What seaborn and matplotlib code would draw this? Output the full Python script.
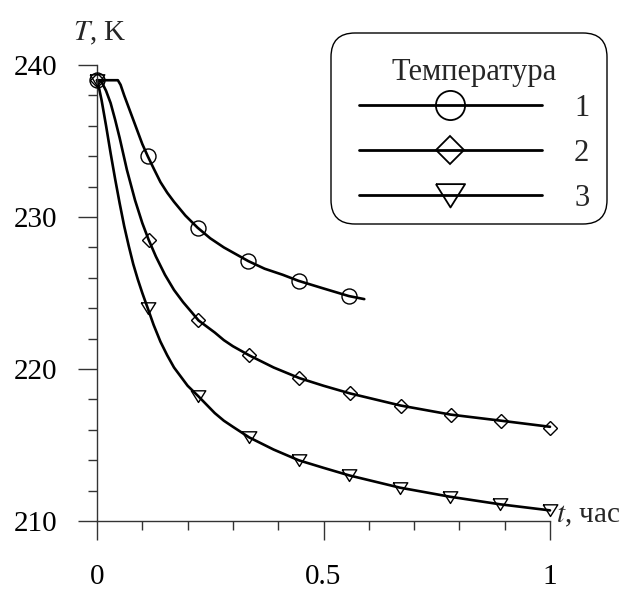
import matplotlib
matplotlib.use("Agg")
import matplotlib.pyplot as plt
import seaborn as sns
import pandas as pd
from matplotlib.lines import Line2D
from matplotlib.patches import FancyBboxPatch
from matplotlib.ticker import FixedLocator, MultipleLocator, FuncFormatter

# ---------------- data ----------------
series_labels = ["1", "2", "3"]
legend_title = "Температура"
x_label = "$t$, час"
y_label = "$T$, K"

# smooth curves
line1_t = [0, 0.046, 0.052, 0.06, 0.07, 0.08, 0.09, 0.10, 0.112, 0.125, 0.14, 0.155,
           0.17, 0.195, 0.222, 0.25, 0.28, 0.31, 0.334, 0.37, 0.41, 0.445, 0.5, 0.556, 0.59]
line1_T = [239.0, 239.0, 238.7, 238.0, 237.2, 236.4, 235.6, 234.8, 234.0, 233.2, 232.3, 231.6,
           231.0, 230.1, 229.3, 228.6, 228.0, 227.5, 227.1, 226.6, 226.2, 225.8, 225.3, 224.8, 224.6]

line2_t = [0, 0.01, 0.02, 0.03, 0.04, 0.05, 0.066, 0.084, 0.10, 0.114, 0.13, 0.15, 0.17, 0.19,
           0.21, 0.224, 0.26, 0.28, 0.30, 0.336, 0.39, 0.447, 0.50, 0.558, 0.67, 0.781, 0.892, 1.0]
line2_T = [239.0, 238.9, 238.3, 237.5, 236.4, 235.2, 233.1, 231.1, 229.6, 228.5, 227.4, 226.2, 225.2, 224.4,
           223.7, 223.2, 222.4, 221.9, 221.5, 220.9, 220.1, 219.4, 218.9, 218.4, 217.6, 217.0, 216.6, 216.2]

line3_t = [0, 0.005, 0.01, 0.02, 0.03, 0.04, 0.05, 0.06, 0.07, 0.08, 0.09, 0.10, 0.112, 0.125,
           0.14, 0.155, 0.17, 0.185, 0.20, 0.224, 0.26, 0.28, 0.30, 0.336, 0.39, 0.445, 0.50,
           0.557, 0.668, 0.779, 0.89, 1.0]
line3_T = [239.0, 238.4, 237.7, 236.0, 234.2, 232.5, 230.9, 229.4, 228.1, 226.9, 225.9, 225.0, 224.0, 222.9,
           221.8, 220.9, 220.1, 219.5, 218.9, 218.2, 217.1, 216.6, 216.2, 215.5, 214.7, 214.0, 213.5,
           213.0, 212.2, 211.6, 211.1, 210.7]

# marker points
mark1_t = [0, 0.112, 0.222, 0.334, 0.445, 0.556]
mark1_T = [239.0, 234.0, 229.3, 227.1, 225.8, 224.8]
mark2_t = [0, 0.114, 0.224, 0.336, 0.447, 0.558, 0.670, 0.781, 0.892, 1.0]
mark2_T = [239.0, 228.5, 223.2, 220.9, 219.4, 218.4, 217.6, 217.0, 216.6, 216.1]
mark3_t = [0, 0.112, 0.224, 0.336, 0.445, 0.557, 0.668, 0.779, 0.890, 1.0]
mark3_T = [239.0, 224.0, 218.2, 215.5, 214.0, 213.0, 212.2, 211.6, 211.1, 210.7]

x_major = [0, 0.5, 1]
y_major = [210, 220, 230, 240]

# ---------------- style ----------------
sns.set_theme(style="white")
plt.rcParams["font.family"] = ["Liberation Serif", "DejaVu Serif"]
plt.rcParams["mathtext.fontset"] = "stix"

FS = 21
LFS = 22
tri_down = [(-1.0, 0.78), (1.0, 0.78), (0.0, -0.82), (-1.0, 0.78)]
markers = ["o", "D", tri_down]
plot_ms = [10.8, 7.6, 10.5]
leg_ms = [21.0, 13.8, 21.0]

lines = [(line1_t, line1_T), (line2_t, line2_T), (line3_t, line3_T)]
marks = [(mark1_t, mark1_T), (mark2_t, mark2_T), (mark3_t, mark3_T)]

W, H = 6.3, 5.89
fig = plt.figure(figsize=(W, H), dpi=100)
ax = fig.add_axes([0.154, 0.1154, 0.719, 0.7742])

for (lt, lT), (mt, mT), m, ms, lab in zip(lines, marks, markers, plot_ms, series_labels):
    dfl = pd.DataFrame({"t": lt, "T": lT})
    sns.lineplot(data=dfl, x="t", y="T", ax=ax, color="black", linewidth=1.9,
                 sort=False, estimator=None, legend=False, clip_on=False, zorder=2)
    dfm = pd.DataFrame({"t": mt, "T": mT})
    ax.plot(dfm["t"], dfm["T"], linestyle="none", marker=m, markersize=ms,
            markerfacecolor="none", markeredgecolor="black", markeredgewidth=1.0,
            clip_on=False, zorder=3)

ax.set_xlim(0, 1)
ax.set_ylim(210, 240)
ax.set_xlabel("")
ax.set_ylabel("")
ax.xaxis.set_major_locator(FixedLocator(x_major))
ax.yaxis.set_major_locator(FixedLocator(y_major))
ax.xaxis.set_minor_locator(MultipleLocator(0.1))
ax.yaxis.set_minor_locator(MultipleLocator(2))
ax.xaxis.set_major_formatter(FuncFormatter(lambda v, p: f"{v:g}"))
ax.yaxis.set_major_formatter(FuncFormatter(lambda v, p: f"{v:g}"))

for s in ["top", "right"]:
    ax.spines[s].set_visible(False)
for s in ["left", "bottom"]:
    ax.spines[s].set_color("#333333")
    ax.spines[s].set_linewidth(1.0)

ax.tick_params(axis="both", which="both", direction="out", bottom=True, left=True,
               color="#333333", width=1.0, labelcolor="black")
ax.tick_params(axis="both", which="major", length=13.7, labelsize=FS)
ax.tick_params(axis="both", which="minor", length=6.5)
ax.tick_params(axis="y", which="major", pad=15)
ax.tick_params(axis="x", which="major", pad=17)

# axis titles
fig.text(73 / 630, 1 - 40 / 589, y_label, ha="left", va="baseline", fontsize=FS)
fig.text(556 / 630, 1 - 522 / 589, x_label, ha="left", va="baseline", fontsize=FS)

# legend (contents) + separate rounded frame
handles = [Line2D([], [], color="black", linewidth=2.0, marker=m, markersize=ms,
                  markerfacecolor="none", markeredgecolor="black", markeredgewidth=1.3)
           for m, ms in zip(markers, leg_ms)]
leg = ax.legend(handles, series_labels, title=legend_title, loc="center",
                bbox_to_anchor=(474 / 630, 1 - 135.5 / 589), bbox_transform=fig.transFigure,
                borderaxespad=0, fontsize=LFS, title_fontsize=LFS, numpoints=1,
                handlelength=6.0, handletextpad=1.05, labelspacing=0.52, borderpad=0.0,
                frameon=False)
leg._legend_box.sep = 4.8

frame = FancyBboxPatch((331 / 100, (589 - 224) / 100), 276 / 100, 191 / 100,
                       boxstyle="round,pad=0,rounding_size=0.24",
                       transform=fig.dpi_scale_trans, facecolor="white",
                       edgecolor="black", linewidth=1.0, zorder=4)
fig.add_artist(frame)
leg.set_zorder(5)
fig.add_artist(leg)

fig.savefig("out.png", dpi=100)
